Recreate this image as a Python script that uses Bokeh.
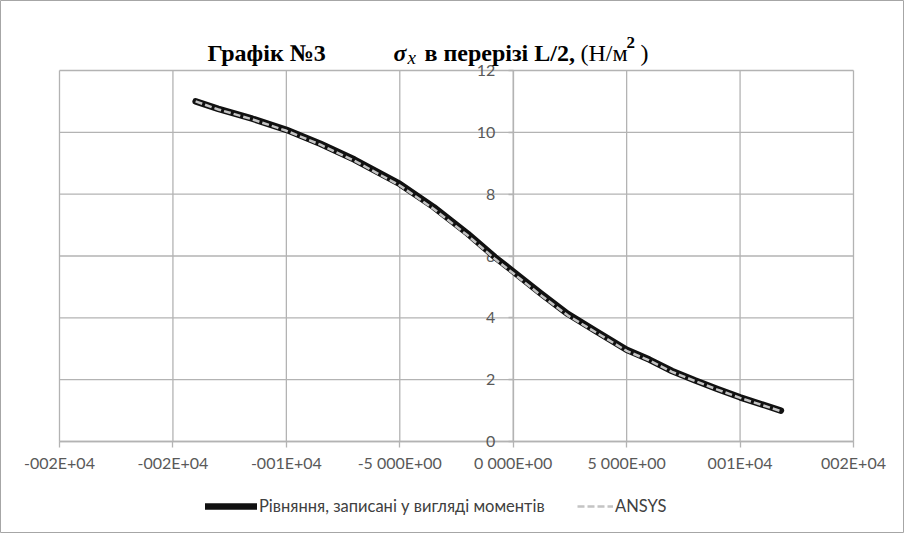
from bokeh.plotting import figure
from bokeh.models import Range1d, FixedTicker, Label, Legend, LegendItem
from bokeh.embed import file_html
from bokeh.resources import INLINE

# ---- data ----
x_vals = [-14.0, -13.0, -11.5, -10.0, -8.5, -7.0, -5.0, -3.5, -2.0, -0.8, 0.0,
          1.2, 2.4, 3.6, 5.0, 6.0, 7.0, 8.0, 9.0, 10.0, 11.8]
y_moments = [11.0, 10.76, 10.44, 10.08, 9.63, 9.12, 8.33, 7.58, 6.72, 5.96, 5.5,
             4.8, 4.13, 3.59, 2.97, 2.65, 2.28, 1.98, 1.70, 1.43, 1.0]
y_ansys = [11.0, 10.74, 10.42, 10.05, 9.60, 9.08, 8.28, 7.52, 6.66, 5.90, 5.44,
           4.74, 4.08, 3.55, 2.93, 2.62, 2.25, 1.96, 1.68, 1.41, 0.98]
x_ticks = [-20, -15, -10, -5, 0, 5, 10, 15]
x_tick_labels = ["-002E+04", "-002E+04", "-001E+04", "-5 000E+00",
                 "0 000E+00", "5 000E+00", "001E+04", "002E+04"]
y_ticks = [0, 2, 4, 6, 8, 10, 12]
series_names = ["Рівняння, записані у вигляді моментів", "ANSYS"]

GRID = "#b3b3b3"
TXT = "#595959"

# ---- layout (pixels) ----
W, H = 904, 533
PL, PR, PT, PB = 59, 853, 70, 441          # plot-area box inside the canvas
x0, x1 = x_ticks[0], x_ticks[-1]
y0, y1 = y_ticks[0], y_ticks[-1]
sx = (PR - PL) / (x1 - x0)
sy = (PB - PT) / (y1 - y0)
xr = Range1d(x0 - PL / sx, x1 + (W - PR) / sx)
yr = Range1d(y0 - (H - PB) / sy, y1 + PT / sy)

def px2x(px):
    return x0 + (px - PL) / sx

def py2y(py):
    return y0 + (PB - py) / sy

p = figure(width=W, height=H, title=None, x_range=xr, y_range=yr,
           output_backend="svg", toolbar_location=None,
           min_border_left=0, min_border_right=0,
           min_border_top=0, min_border_bottom=0)
p.outline_line_color = "#a6a6a6"
p.outline_line_width = 1
p.xgrid.visible = False
p.ygrid.visible = False

# grid lines limited to the plot area
p.segment(x0=x_ticks, y0=[y0] * len(x_ticks), x1=x_ticks, y1=[y1] * len(x_ticks),
          line_color=GRID, line_width=1.3, level="underlay")
p.segment(x0=[x0] * len(y_ticks), y0=y_ticks, x1=[x1] * len(y_ticks), y1=y_ticks,
          line_color=GRID, line_width=1.3, level="underlay")

# x axis at y = 0
xa = p.xaxis[0]
xa.fixed_location = 0
xa.bounds = (x0, x1)
xa.ticker = FixedTicker(ticks=x_ticks)
xa.major_label_overrides = {t: l for t, l in zip(x_ticks, x_tick_labels)}
xa.axis_line_color = GRID
xa.axis_line_width = 1.3
xa.major_tick_line_color = GRID
xa.major_tick_line_width = 1.3
xa.major_tick_out = 6
xa.major_tick_in = 0
xa.minor_tick_line_color = None
xa.major_label_standoff = 5
xa.major_label_text_font = "Lato"
xa.major_label_text_font_size = "16px"
xa.major_label_text_color = TXT
xa.level = "underlay"

# y axis at x = 0
ya = p.yaxis[0]
ya.fixed_location = 0
ya.bounds = (y0, y1)
ya.ticker = FixedTicker(ticks=y_ticks)
ya.axis_line_color = GRID
ya.axis_line_width = 1.3
ya.major_tick_line_color = GRID
ya.major_tick_line_width = 1.3
ya.major_tick_out = 5
ya.major_tick_in = 0
ya.minor_tick_line_color = None
ya.major_label_standoff = 13
ya.major_label_text_font = "Lato"
ya.major_label_text_font_size = "16px"
ya.major_label_text_color = TXT
ya.level = "underlay"

# series
r_mom = p.line(x_vals, y_moments, line_color="#111111", line_width=6.5,
               line_cap="round", line_join="round")
r_ans = p.line(x_vals, y_ansys, line_color="#c4c4c4", line_width=2.5,
               line_dash="7 3")

# legends (two, to get different sample lengths)
common = dict(background_fill_alpha=0, border_line_color=None, padding=0,
              margin=0, label_text_font="Lato", label_text_font_size="16.5px",
              label_text_color="#404040", label_standoff=2,
              glyph_height=16, label_height=16, orientation="horizontal")
leg1 = Legend(items=[LegendItem(label=series_names[0], renderers=[r_mom])],
              location=(205, H - 516), glyph_width=52, **common)
leg2 = Legend(items=[LegendItem(label=series_names[1], renderers=[r_ans])],
              location=(577, H - 516), glyph_width=36, **common)
p.add_layout(leg1)
p.add_layout(leg2)

# title (composed of several text pieces)
SERIF = "Liberation Serif"
pieces = [
    ("Графік №3", 207, 52, "bold", "24px"),
    ("σ", 393, 52, "bold italic", "24px"),
    ("x", 407, 57, "italic", "19px"),
    ("в перерізі L/2, ", 424, 52, "bold", "24px"),
    ("(Н/м", 580, 52, "normal", "24px"),
    ("2", 626, 42, "bold", "17px"),
    (")", 640, 52, "normal", "24px"),
]
for txt, px, py, style, size in pieces:
    p.add_layout(Label(x=px2x(px), y=py2y(py), text=txt, text_font=SERIF,
                       text_font_style=style, text_font_size=size,
                       text_baseline="alphabetic", text_color="black"))

open("out.html", "w").write(file_html(p, INLINE))
